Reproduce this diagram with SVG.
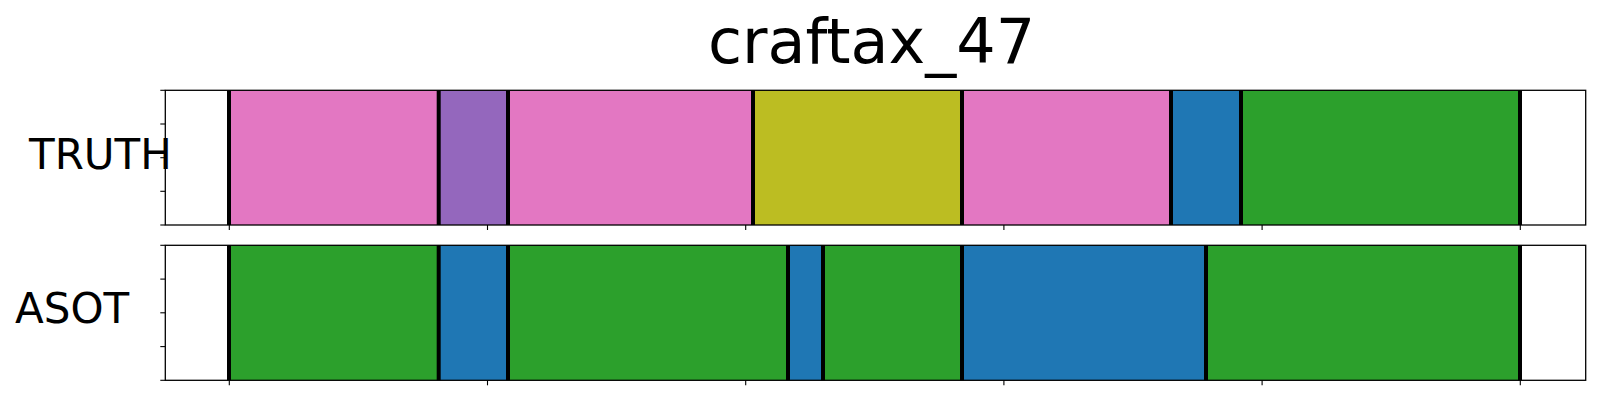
<svg xmlns="http://www.w3.org/2000/svg" width="1600" height="400" viewBox="0 0 1600 400">
<style>
.lbl{font-family:"DejaVu Sans","Liberation Sans",sans-serif;fill:#000}
.frame{fill:none;stroke:#000;stroke-width:1.3}
.tick{stroke:#000;stroke-width:1.1}
.b{stroke:#000;stroke-width:4}
.pink{fill:#e377c2}.purple{fill:#9467bd}.olive{fill:#bcbd22}.blue{fill:#1f77b4}.green{fill:#2ca02c}
</style>
<rect width="1600" height="400" fill="#fff"/>
<text class="lbl" x="708" y="62.7" font-size="62">craftax_47</text>

<g id="truth">
<text class="lbl" x="29" y="169" font-size="42">TRUTH</text>
<rect class="pink" x="229" y="90.3" width="209.7" height="134.7"/>
<rect class="purple" x="438.7" y="90.3" width="69.3" height="134.7"/>
<rect class="pink" x="508" y="90.3" width="245" height="134.7"/>
<rect class="olive" x="753" y="90.3" width="209" height="134.7"/>
<rect class="pink" x="962" y="90.3" width="209" height="134.7"/>
<rect class="blue" x="1171" y="90.3" width="70" height="134.7"/>
<rect class="green" x="1241" y="90.3" width="279" height="134.7"/>
<g>
<line class="b" x1="229" y1="90.3" x2="229" y2="225"/>
<line class="b" x1="438.7" y1="90.3" x2="438.7" y2="225"/>
<line class="b" x1="508" y1="90.3" x2="508" y2="225"/>
<line class="b" x1="753" y1="90.3" x2="753" y2="225"/>
<line class="b" x1="962" y1="90.3" x2="962" y2="225"/>
<line class="b" x1="1171" y1="90.3" x2="1171" y2="225"/>
<line class="b" x1="1241" y1="90.3" x2="1241" y2="225"/>
<line class="b" x1="1520" y1="90.3" x2="1520" y2="225"/>
</g>
<rect class="frame" x="165.3" y="90.3" width="1420.4" height="134.7"/>
<g>
<line class="tick" x1="160.3" y1="90.3" x2="165.3" y2="90.3"/>
<line class="tick" x1="160.3" y1="124" x2="165.3" y2="124"/>
<line class="tick" x1="160.3" y1="157.7" x2="165.3" y2="157.7"/>
<line class="tick" x1="160.3" y1="191.3" x2="165.3" y2="191.3"/>
<line class="tick" x1="160.3" y1="225" x2="165.3" y2="225"/>
<line class="tick" x1="229.3" y1="225" x2="229.3" y2="230"/>
<line class="tick" x1="487.5" y1="225" x2="487.5" y2="230"/>
<line class="tick" x1="745.7" y1="225" x2="745.7" y2="230"/>
<line class="tick" x1="1003.9" y1="225" x2="1003.9" y2="230"/>
<line class="tick" x1="1262.1" y1="225" x2="1262.1" y2="230"/>
<line class="tick" x1="1520.3" y1="225" x2="1520.3" y2="230"/>
</g>
</g>

<g id="asot">
<text class="lbl" x="15" y="322.7" font-size="42">ASOT</text>
<rect class="green" x="229" y="245.3" width="209.7" height="135"/>
<rect class="blue" x="438.7" y="245.3" width="69.3" height="135"/>
<rect class="green" x="508" y="245.3" width="280" height="135"/>
<rect class="blue" x="788" y="245.3" width="35" height="135"/>
<rect class="green" x="823" y="245.3" width="139" height="135"/>
<rect class="blue" x="962" y="245.3" width="244" height="135"/>
<rect class="green" x="1206" y="245.3" width="314" height="135"/>
<g>
<line class="b" x1="229" y1="245.3" x2="229" y2="380.3"/>
<line class="b" x1="438.7" y1="245.3" x2="438.7" y2="380.3"/>
<line class="b" x1="508" y1="245.3" x2="508" y2="380.3"/>
<line class="b" x1="788" y1="245.3" x2="788" y2="380.3"/>
<line class="b" x1="823" y1="245.3" x2="823" y2="380.3"/>
<line class="b" x1="962" y1="245.3" x2="962" y2="380.3"/>
<line class="b" x1="1206" y1="245.3" x2="1206" y2="380.3"/>
<line class="b" x1="1520" y1="245.3" x2="1520" y2="380.3"/>
</g>
<rect class="frame" x="165.3" y="245.3" width="1420.4" height="135"/>
<g>
<line class="tick" x1="160.3" y1="245.3" x2="165.3" y2="245.3"/>
<line class="tick" x1="160.3" y1="279.1" x2="165.3" y2="279.1"/>
<line class="tick" x1="160.3" y1="312.8" x2="165.3" y2="312.8"/>
<line class="tick" x1="160.3" y1="346.6" x2="165.3" y2="346.6"/>
<line class="tick" x1="160.3" y1="380.3" x2="165.3" y2="380.3"/>
<line class="tick" x1="229.3" y1="380.3" x2="229.3" y2="385.3"/>
<line class="tick" x1="487.5" y1="380.3" x2="487.5" y2="385.3"/>
<line class="tick" x1="745.7" y1="380.3" x2="745.7" y2="385.3"/>
<line class="tick" x1="1003.9" y1="380.3" x2="1003.9" y2="385.3"/>
<line class="tick" x1="1262.1" y1="380.3" x2="1262.1" y2="385.3"/>
<line class="tick" x1="1520.3" y1="380.3" x2="1520.3" y2="385.3"/>
</g>
</g>
</svg>
